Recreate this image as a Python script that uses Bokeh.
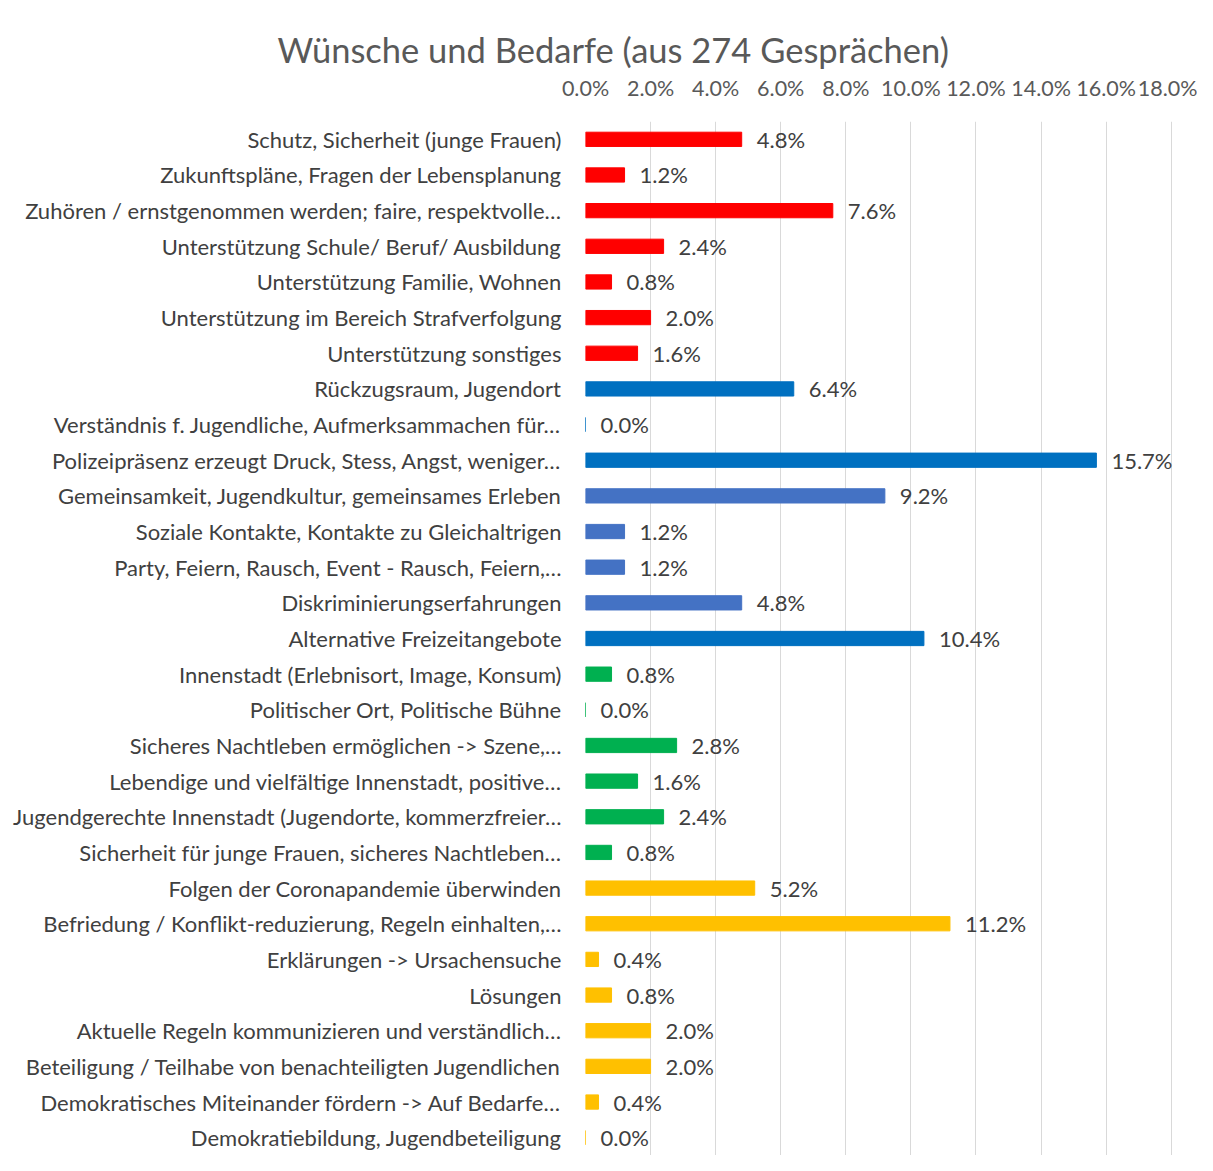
from bokeh.plotting import figure
from bokeh.models import FactorRange, Range1d, FixedTicker, PrintfTickFormatter, Title, ColumnDataSource
from bokeh.core.properties import value
from bokeh.embed import file_html
from bokeh.resources import INLINE

title_text = "Wünsche und Bedarfe (aus 274 Gesprächen)"

categories = [
    "Schutz, Sicherheit (junge Frauen)",
    "Zukunftspläne, Fragen der Lebensplanung",
    "Zuhören / ernstgenommen werden; faire, respektvolle…",
    "Unterstützung Schule/ Beruf/ Ausbildung",
    "Unterstützung Familie, Wohnen",
    "Unterstützung im Bereich Strafverfolgung",
    "Unterstützung sonstiges",
    "Rückzugsraum, Jugendort",
    "Verständnis f. Jugendliche, Aufmerksammachen für…",
    "Polizeipräsenz erzeugt Druck, Stess, Angst, weniger…",
    "Gemeinsamkeit, Jugendkultur, gemeinsames Erleben",
    "Soziale Kontakte, Kontakte zu Gleichaltrigen",
    "Party, Feiern, Rausch, Event - Rausch, Feiern,…",
    "Diskriminierungserfahrungen",
    "Alternative Freizeitangebote",
    "Innenstadt (Erlebnisort, Image, Konsum)",
    "Politischer Ort, Politische Bühne",
    "Sicheres Nachtleben ermöglichen -> Szene,…",
    "Lebendige und vielfältige Innenstadt, positive…",
    "Jugendgerechte Innenstadt (Jugendorte, kommerzfreier…",
    "Sicherheit für junge Frauen, sicheres Nachtleben…",
    "Folgen der Coronapandemie überwinden",
    "Befriedung / Konflikt-reduzierung, Regeln einhalten,…",
    "Erklärungen -> Ursachensuche",
    "Lösungen",
    "Aktuelle Regeln kommunizieren und verständlich…",
    "Beteiligung / Teilhabe von benachteiligten Jugendlichen",
    "Demokratisches Miteinander fördern -> Auf Bedarfe…",
    "Demokratiebildung, Jugendbeteiligung",
]

values = [4.8, 1.2, 7.6, 2.4, 0.8, 2.0, 1.6,
          6.4, 0.0, 15.7, 9.2, 1.2, 1.2, 4.8, 10.4,
          0.8, 0.0, 2.8, 1.6, 2.4, 0.8,
          5.2, 11.2, 0.4, 0.8, 2.0, 2.0, 0.4, 0.0]

colors = ["#FF0000"] * 7 + \
         ["#0070C0", "#0070C0", "#0070C0", "#4472C4", "#4472C4", "#4472C4", "#4472C4", "#0070C0"] + \
         ["#00B050"] * 6 + \
         ["#FFC000"] * 8

x_ticks = [0, 2, 4, 6, 8, 10, 12, 14, 16, 18]

labels = [f"{v:.1f}%" for v in values]

FONT = "Lato"

src = ColumnDataSource(dict(cat=categories, val=values, col=colors, lab=labels))

W, H = 1197, 1155
FL, FR, FT, FB = 585, 1187, 121, 1155
XMAX = 18.5

p = figure(width=W, height=H, output_backend="svg", toolbar_location=None,
           y_range=FactorRange(factors=list(reversed(categories))),
           x_range=Range1d(0, XMAX), x_axis_location="above",
           min_border_left=FL, min_border_right=W - FR,
           min_border_top=FT, min_border_bottom=H - FB)
p.outline_line_color = None
p.background_fill_color = "white"
p.border_fill_color = "white"

p.title = Title(text=title_text, align="left", offset=277 - FL,
                text_font=FONT, text_font_size="34.5px", text_font_style="normal",
                text_color="#595959", standoff=4)

p.hbar(y="cat", right="val", left=0, height=0.4, color="col", source=src)
p.text(x="val", y="cat", text="lab", source=src, x_offset=15,
       text_baseline="middle", text_align="left",
       text_font=value(FONT), text_font_size="22px", text_color="#404040")

xa = p.xaxis[0]
xa.ticker = FixedTicker(ticks=x_ticks)
xa.formatter = PrintfTickFormatter(format="%.1f%%")
xa.axis_line_color = None
xa.major_tick_line_color = None
xa.minor_tick_line_color = None
xa.major_label_standoff = 15
xa.major_label_text_font = FONT
xa.major_label_text_font_size = "21.5px"
xa.major_label_text_color = "#595959"

ya = p.yaxis[0]
ya.axis_line_color = None
ya.major_tick_line_color = None
ya.minor_tick_line_color = None
ya.major_label_standoff = 18
ya.major_label_text_font = FONT
ya.major_label_text_font_size = "22px"
ya.major_label_text_color = "#404040"

p.ygrid.grid_line_color = None
p.xgrid.grid_line_color = "#D9D9D9"
p.xgrid.grid_line_width = 1

open("out.html", "w").write(file_html(p, INLINE))
